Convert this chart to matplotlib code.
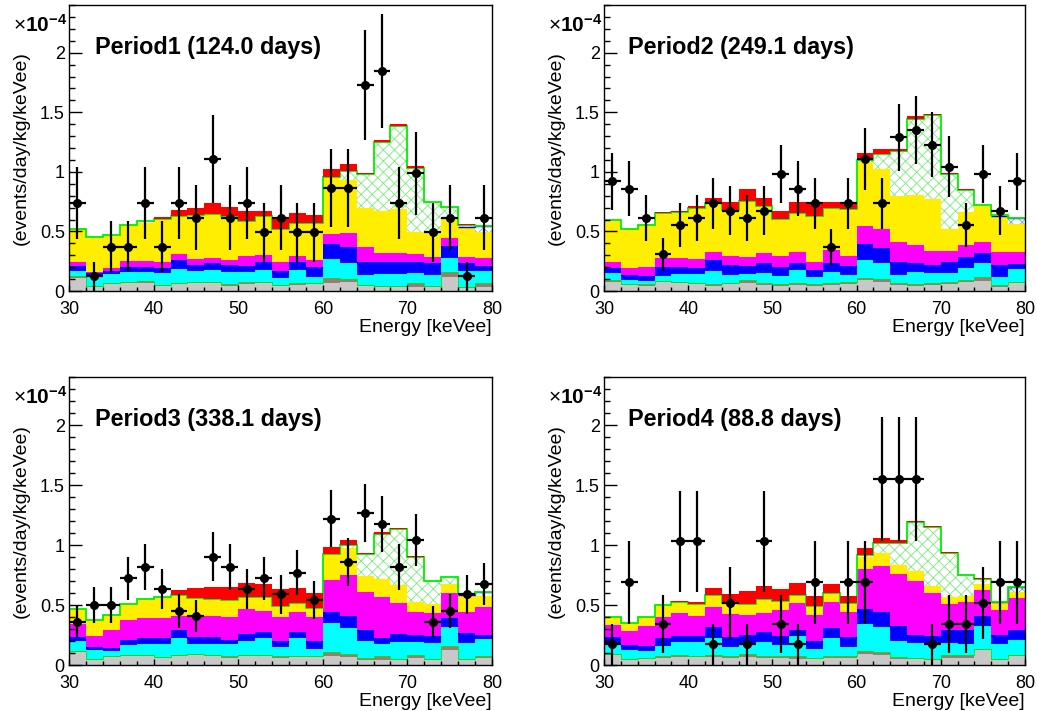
import numpy as np
import matplotlib
matplotlib.use("Agg")
import matplotlib.pyplot as plt
from matplotlib.ticker import MultipleLocator

plt.rcParams['font.family'] = ['Liberation Sans', 'DejaVu Sans']
plt.rcParams['mathtext.fontset'] = 'custom'
plt.rcParams['mathtext.rm'] = 'Liberation Sans'
plt.rcParams['mathtext.bf'] = 'Liberation Sans:bold'
plt.rcParams['hatch.linewidth'] = 0.6

# ---------------- data (units of 1e-4 events/day/kg/keVee) ----------------
edges = np.arange(30, 82, 2)
centers = edges[:-1] + 1

titles = ["Period1 (124.0 days)", "Period2 (249.1 days)",
          "Period3 (338.1 days)", "Period4 (88.8 days)"]

# cumulative tops of the stacked background components
p1_gray = [0.11,0.036,0.059,0.064,0.07,0.045,0.056,0.064,0.064,0.042,0.059,0.064,0.042,0.05,0.059,0.07,0.078,0.042,0.031,0.036,0.036,0.036,0.12,0.022,0.031]
p1_brown = [0.123,0.045,0.067,0.075,0.081,0.05,0.07,0.078,0.078,0.059,0.075,0.078,0.05,0.064,0.07,0.112,0.098,0.05,0.042,0.045,0.07,0.045,0.162,0.031,0.064]
p1_cyan = [0.17,0.126,0.14,0.162,0.162,0.154,0.182,0.17,0.176,0.162,0.162,0.176,0.106,0.176,0.115,0.265,0.237,0.134,0.142,0.142,0.148,0.134,0.274,0.17,0.17]
p1_blue = [0.212,0.154,0.17,0.204,0.204,0.19,0.26,0.218,0.232,0.218,0.212,0.24,0.17,0.246,0.198,0.391,0.372,0.246,0.246,0.246,0.24,0.232,0.38,0.232,0.209]
p1_magenta = [0.24,0.162,0.19,0.249,0.249,0.24,0.31,0.265,0.274,0.26,0.293,0.302,0.24,0.293,0.26,0.478,0.489,0.372,0.316,0.316,0.31,0.288,0.447,0.288,0.279]
p1_yellow = [0.517,0.444,0.464,0.55,0.573,0.595,0.623,0.628,0.637,0.623,0.581,0.623,0.517,0.567,0.561,0.95,0.93,0.693,0.673,0.684,0.497,0.483,0.623,0.531,0.497]
p1_bhatch_tail = [0.539, 0.545]
p1_signal = [0.522,0.45,0.469,0.556,0.584,0.601,0.628,0.634,0.642,0.628,0.587,0.628,0.522,0.573,0.567,0.958,1.008,0.98,1.251,1.385,1.036,0.743,0.701,0.553,0.545]
p1_red = [0.522,0.45,0.469,0.556,0.589,0.623,0.679,0.693,0.735,0.707,0.67,0.673,0.609,0.651,0.637,1.022,1.064,0.994,1.271,1.399,1.047,0.749,0.707,0.559,0.545]
p1_counts = [6,1,3,3,6,3,6,5,9,5,6,4,5,4,4,7,7,14,15,6,8,4,5,1,5]
p1_unit = 0.1233

p2_gray = [0.078,0.05,0.045,0.078,0.07,0.059,0.045,0.056,0.064,0.05,0.042,0.05,0.042,0.05,0.059,0.092,0.078,0.05,0.042,0.05,0.056,0.073,0.084,0.036,0.064]
p2_brown = [0.092,0.059,0.056,0.087,0.078,0.07,0.059,0.07,0.092,0.064,0.059,0.07,0.056,0.064,0.078,0.112,0.098,0.064,0.056,0.064,0.073,0.092,0.115,0.05,0.078]
p2_cyan = [0.148,0.092,0.087,0.128,0.142,0.142,0.168,0.134,0.142,0.154,0.126,0.176,0.115,0.162,0.134,0.26,0.232,0.134,0.162,0.148,0.154,0.19,0.232,0.12,0.182]
p2_blue = [0.196,0.134,0.128,0.204,0.204,0.19,0.26,0.218,0.212,0.232,0.198,0.232,0.176,0.232,0.212,0.391,0.358,0.246,0.232,0.218,0.24,0.282,0.321,0.218,0.223]
p2_magenta = [0.24,0.19,0.204,0.279,0.279,0.268,0.33,0.293,0.288,0.316,0.293,0.33,0.24,0.344,0.296,0.545,0.517,0.413,0.385,0.338,0.338,0.385,0.413,0.324,0.324]
p2_yellow = [0.587,0.517,0.545,0.651,0.651,0.693,0.729,0.673,0.749,0.707,0.595,0.645,0.623,0.687,0.684,1.084,1.022,0.799,0.804,0.771,0.517,0.659,0.715,0.628,0.561]
p2_bhatch_tail = [0.628, 0.615]
p2_signal = [0.592,0.522,0.55,0.656,0.662,0.698,0.735,0.679,0.754,0.712,0.601,0.651,0.628,0.693,0.69,1.103,1.148,1.176,1.447,1.475,0.98,0.846,0.721,0.634,0.615]
p2_red = [0.592,0.522,0.55,0.665,0.673,0.715,0.782,0.749,0.86,0.777,0.673,0.749,0.743,0.743,0.749,1.154,1.19,1.19,1.466,1.483,0.992,0.855,0.721,0.637,0.615]
p2_counts = [15,14,10,5,9,10,12,11,10,11,16,14,12,6,12,18,12,21,22,20,17,9,16,11,15]
p2_unit = 0.0614

p3_gray = [0.109,0.045,0.067,0.073,0.075,0.061,0.073,0.081,0.075,0.061,0.075,0.075,0.061,0.067,0.067,0.073,0.067,0.045,0.039,0.045,0.061,0.045,0.123,0.045,0.061]
p3_brown = [0.117,0.053,0.075,0.081,0.087,0.067,0.081,0.095,0.087,0.073,0.087,0.087,0.073,0.075,0.075,0.109,0.095,0.061,0.073,0.053,0.081,0.053,0.156,0.053,0.075]
p3_cyan = [0.201,0.123,0.115,0.165,0.173,0.179,0.226,0.179,0.173,0.173,0.201,0.226,0.151,0.226,0.137,0.346,0.31,0.201,0.179,0.193,0.193,0.184,0.313,0.184,0.215]
p3_blue = [0.235,0.151,0.142,0.212,0.221,0.226,0.291,0.235,0.235,0.212,0.257,0.277,0.198,0.277,0.198,0.439,0.411,0.291,0.226,0.257,0.249,0.243,0.388,0.268,0.254]
p3_magenta = [0.338,0.243,0.291,0.374,0.388,0.388,0.411,0.402,0.411,0.397,0.464,0.453,0.402,0.439,0.397,0.709,0.751,0.612,0.564,0.514,0.444,0.436,0.598,0.444,0.486]
p3_yellow = [0.464,0.369,0.411,0.5,0.542,0.561,0.575,0.556,0.542,0.536,0.564,0.561,0.486,0.514,0.472,0.913,0.975,0.743,0.715,0.668,0.528,0.506,0.673,0.578,0.578]
p3_bhatch_tail = [0.584, 0.612]
p3_signal = [0.469,0.374,0.416,0.506,0.547,0.567,0.581,0.561,0.547,0.542,0.57,0.567,0.492,0.52,0.478,0.925,0.997,0.925,1.095,1.134,0.897,0.696,0.732,0.589,0.612]
p3_red = [0.469,0.374,0.416,0.506,0.547,0.57,0.626,0.64,0.654,0.648,0.682,0.673,0.634,0.64,0.603,0.98,1.045,0.933,1.106,1.142,0.905,0.701,0.737,0.589,0.612]
p3_counts = [8,11,11,16,18,14,10,9,20,18,14,16,13,17,12,27,19,28,26,18,23,8,10,13,15]
p3_unit = 0.0452

p4_gray = [0.081,0.045,0.053,0.061,0.067,0.067,0.067,0.061,0.067,0.061,0.061,0.053,0.053,0.061,0.061,0.095,0.087,0.053,0.047,0.045,0.061,0.061,0.123,0.039,0.073]
p4_brown = [0.095,0.053,0.061,0.073,0.081,0.075,0.087,0.075,0.095,0.075,0.075,0.073,0.061,0.075,0.075,0.115,0.109,0.067,0.059,0.053,0.081,0.081,0.137,0.053,0.087]
p4_cyan = [0.179,0.123,0.115,0.156,0.193,0.193,0.226,0.151,0.179,0.193,0.17,0.243,0.137,0.229,0.151,0.338,0.313,0.201,0.184,0.165,0.184,0.173,0.324,0.173,0.212]
p4_blue = [0.235,0.165,0.156,0.226,0.243,0.243,0.313,0.235,0.254,0.277,0.243,0.291,0.201,0.31,0.235,0.466,0.444,0.324,0.254,0.243,0.291,0.291,0.411,0.254,0.291]
p4_magenta = [0.332,0.282,0.327,0.402,0.43,0.408,0.486,0.422,0.416,0.436,0.458,0.514,0.416,0.528,0.439,0.802,0.821,0.76,0.701,0.598,0.506,0.528,0.626,0.458,0.556]
p4_yellow = [0.397,0.346,0.397,0.492,0.522,0.5,0.578,0.514,0.5,0.542,0.528,0.575,0.486,0.592,0.514,0.899,0.933,0.83,0.785,0.659,0.564,0.578,0.673,0.522,0.612]
p4_bhatch_tail = [0.528, 0.648]
p4_signal = [0.402,0.352,0.402,0.5,0.528,0.506,0.584,0.52,0.506,0.547,0.534,0.581,0.492,0.598,0.52,0.919,1.017,1.017,1.19,1.148,0.933,0.746,0.718,0.528,0.648]
p4_red = [0.402,0.352,0.402,0.5,0.534,0.528,0.64,0.589,0.62,0.659,0.634,0.682,0.578,0.673,0.578,0.975,1.059,1.045,1.204,1.156,0.939,0.751,0.723,0.528,0.648]
p4_counts = [1,4,0,2,6,6,1,3,1,6,2,1,4,0,4,4,9,9,9,1,2,2,3,4,4]
p4_unit = 0.172

panels = [
    (p1_gray, p1_brown, p1_cyan, p1_blue, p1_magenta, p1_yellow, p1_bhatch_tail, p1_signal, p1_red, p1_counts, p1_unit),
    (p2_gray, p2_brown, p2_cyan, p2_blue, p2_magenta, p2_yellow, p2_bhatch_tail, p2_signal, p2_red, p2_counts, p2_unit),
    (p3_gray, p3_brown, p3_cyan, p3_blue, p3_magenta, p3_yellow, p3_bhatch_tail, p3_signal, p3_red, p3_counts, p3_unit),
    (p4_gray, p4_brown, p4_cyan, p4_blue, p4_magenta, p4_yellow, p4_bhatch_tail, p4_signal, p4_red, p4_counts, p4_unit),
]

C_GRAY = '#c8c8c8'
C_BROWN = '#a07878'
C_GREEN = '#00ee00'
C_CYAN = '#00ffff'
C_BLUE = '#0000ff'
C_MAGENTA = '#ff00ff'
C_YELLOW = '#ffee00'
C_RED = '#ff0000'

# ---------------- layout ----------------
W, H = 1037, 711
fig = plt.figure(figsize=(W / 100, H / 100), dpi=100)

# axes boxes in pixels: (left, top, right, bottom)
boxes = [(69, 5, 492, 291), (604, 5, 1025, 291),
         (69, 377, 492, 665), (604, 377, 1025, 665)]
title_x = [0.061, 0.057, 0.061, 0.057]

for k, (box, pdata) in enumerate(zip(boxes, panels)):
    l, t, r, b = box
    ax = fig.add_axes([l / W, (H - b) / H, (r - l) / W, (b - t) / H])
    gray, brown, cyan, blue, magenta, yellow, bh_tail, signal, red, counts, unit = pdata
    gray = np.array(gray); brown = np.array(brown); cyan = np.array(cyan)
    blue = np.array(blue); magenta = np.array(magenta); yellow = np.array(yellow)
    bh = yellow.copy(); bh[-2:] = np.maximum(yellow[-2:], bh_tail)
    signal = np.maximum(np.array(signal), bh)
    red = np.maximum(np.array(red), signal)

    zero = np.zeros_like(gray)
    ax.stairs(gray, edges, baseline=zero, fill=True, color=C_GRAY, lw=0)
    ax.stairs(brown, edges, baseline=gray, fill=True, color=C_BROWN, lw=0)
    ax.stairs(cyan, edges, baseline=brown, fill=True, color=C_CYAN, lw=0)
    ax.stairs(brown, edges, baseline=None, color=C_GREEN, lw=0.6)
    ax.stairs(blue, edges, baseline=cyan, fill=True, color=C_BLUE, lw=0)
    ax.stairs(magenta, edges, baseline=blue, fill=True, color=C_MAGENTA, lw=0)
    ax.stairs(yellow, edges, baseline=magenta, fill=True, color=C_YELLOW, lw=0)
    ax.stairs(bh, edges, baseline=yellow, fill=True, facecolor='white',
              edgecolor='#7799ff', hatch='xxx', lw=0)
    ax.stairs(signal, edges, baseline=bh, fill=True, facecolor='white',
              edgecolor='#77ee77', hatch='xxx', lw=0)
    ax.stairs(bh[-2:], edges[-3:], baseline=None, color=C_BLUE, lw=1.0)
    ax.stairs(signal, edges, baseline=None, color=C_GREEN, lw=1.3)
    ax.stairs(red, edges, baseline=signal, fill=True, color=C_RED, lw=0)

    cnt = np.array(counts, dtype=float)
    m = cnt > 0
    ax.errorbar(centers[m], cnt[m] * unit, xerr=1.0, yerr=np.sqrt(cnt[m]) * unit,
                fmt='o', color='black', ms=5.5, elinewidth=1.6, capsize=0, zorder=5)

    ax.set_xlim(30, 80)
    ax.set_ylim(0, 2.4)
    ax.xaxis.set_major_locator(MultipleLocator(10))
    ax.xaxis.set_minor_locator(MultipleLocator(2))
    ax.yaxis.set_minor_locator(MultipleLocator(0.1))
    ax.set_yticks([0, 0.5, 1, 1.5, 2])
    ax.set_yticklabels(['0', '0.5', '1', '1.5', '2'])
    ax.tick_params(axis='both', which='both', direction='in', top=False, right=False,
                   labelsize=13, width=1)
    ax.tick_params(axis='y', which='major', length=9, pad=3)
    ax.tick_params(axis='y', which='minor', length=4.5)
    ax.tick_params(axis='x', which='major', length=4, pad=7)
    ax.tick_params(axis='x', which='minor', length=3)
    for s in ax.spines.values():
        s.set_linewidth(1.0)

    ax.set_ylabel('(events/day/kg/keVee)', fontsize=14, labelpad=7)
    ax.set_xlabel('Energy [keVee]', fontsize=14, loc='right', labelpad=1)
    ax.text(title_x[k], 0.851, titles[k], transform=ax.transAxes, fontsize=16.8,
            fontweight='bold', va='center', ha='left')
    ax.text(-0.133, 0.93, r'$\times\mathbf{10^{-4}}$', transform=ax.transAxes,
            fontsize=15, va='center', ha='left')

fig.savefig('out.png', dpi=100)
